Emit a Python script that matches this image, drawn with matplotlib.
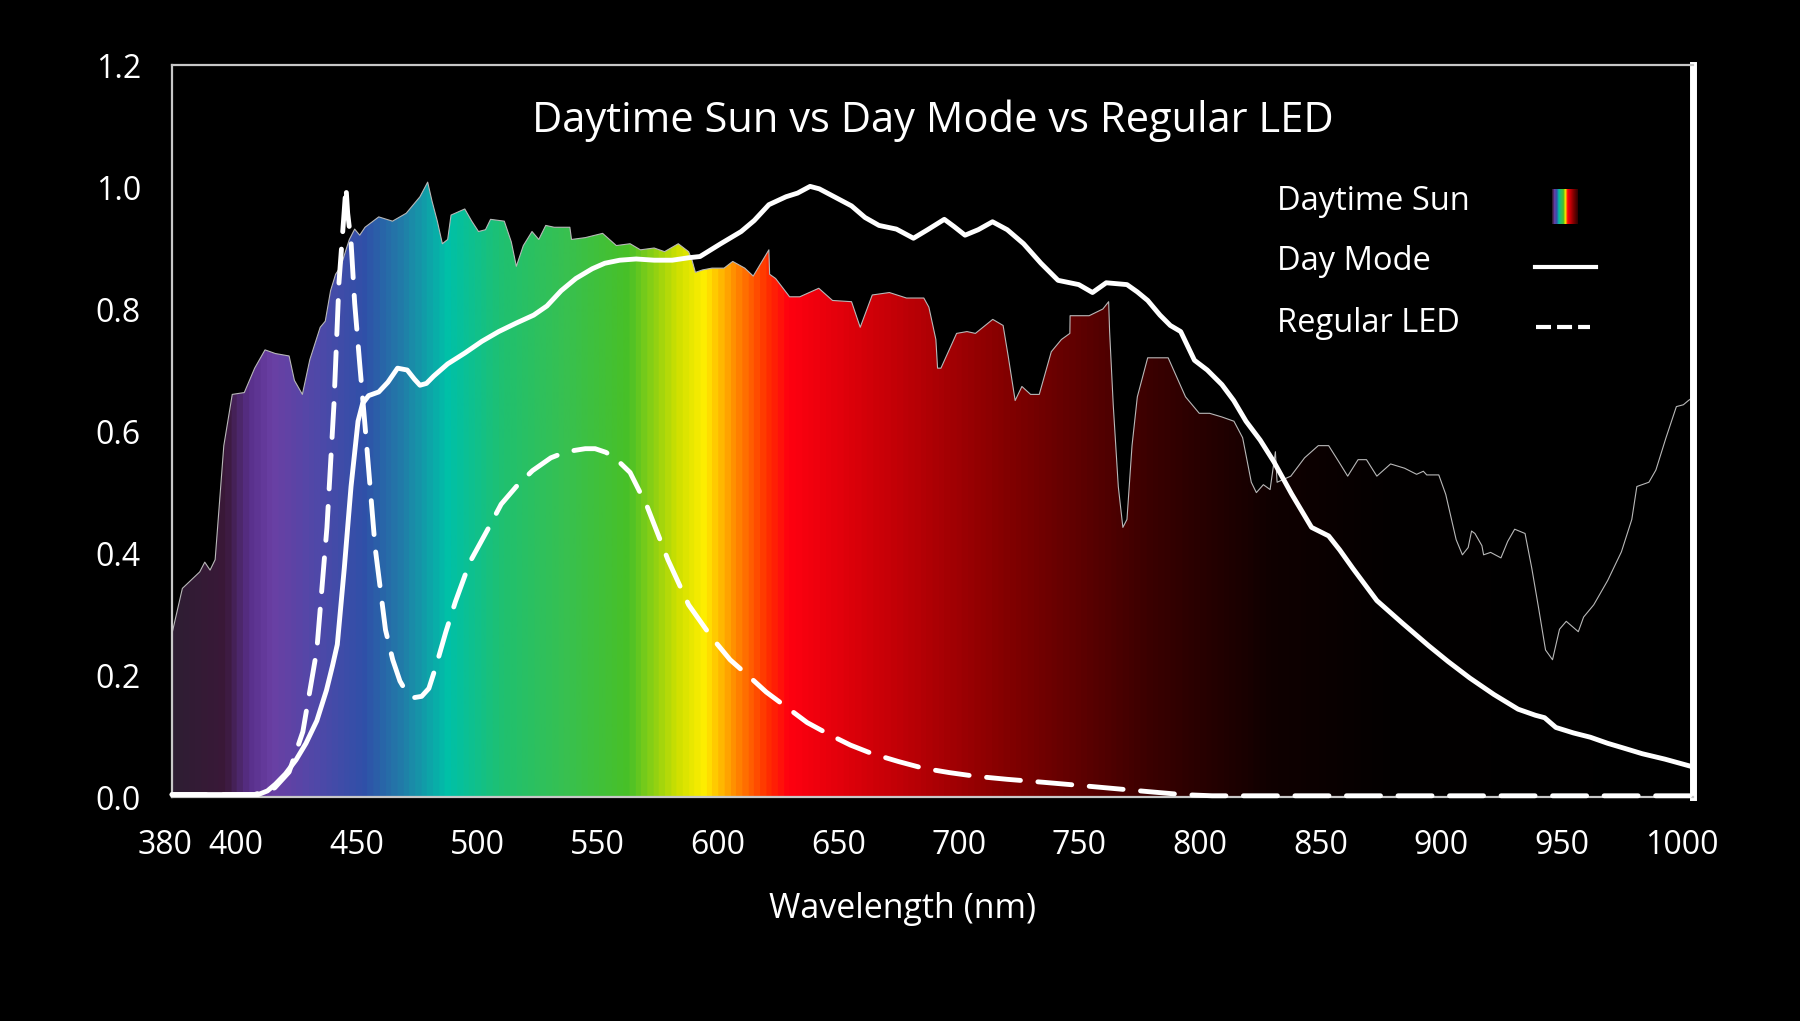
import numpy as np
import matplotlib
matplotlib.use("Agg")
import matplotlib.pyplot as plt
from matplotlib.colors import LinearSegmentedColormap
from matplotlib.lines import Line2D
from matplotlib.transforms import ScaledTranslation

plt.rcParams['font.family'] = ['Open Sans', 'DejaVu Sans']

# ---- data ----
sun_nm = [373.4, 377.7, 384.9, 387.0, 389.2, 391.3, 394.9, 398.4, 403.4, 407.7, 412.0, 416.3,
          422.0, 424.2, 427.5, 430.6, 434.9, 437.0, 439.2, 441.3, 443.5, 445.6, 447.0, 449.2,
          451.3, 453.5, 459.2, 464.9, 470.6, 476.3, 479.5, 481.3, 483.5, 485.6, 487.8, 489.2,
          494.9, 497.8, 500.6, 503.5, 505.6, 511.3, 514.2, 516.3, 519.2, 522.8, 525.6, 528.5,
          532.0, 538.5, 539.2, 544.9, 552.1, 557.8, 563.5, 567.8, 573.5, 577.8, 583.5, 587.8,
          589.2, 590.6, 593.5, 597.5, 602.5, 606.1, 611.1, 614.6, 621.1, 621.4, 623.9, 629.7,
          633.9, 641.8, 647.5, 655.4, 659.0, 664.0, 671.1, 678.2, 685.4, 687.5, 690.4, 691.1,
          692.5, 699.0, 703.3, 706.8, 714.0, 718.3, 720.4, 723.3, 726.1, 729.7, 733.3, 738.3,
          742.5, 746.0, 746.1, 754.0, 759.7, 762.1, 762.5, 764.0, 766.1, 768.0, 769.7, 771.8,
          774.0, 778.3, 786.8, 794.0, 799.7, 804.0, 809.1, 814.1, 817.7, 821.3, 823.4, 826.3,
          829.1, 831.3, 832.0, 837.7, 843.4, 849.1, 853.4, 857.7, 861.3, 865.6, 869.1, 873.4,
          879.1, 884.9, 889.9, 892.7, 894.1, 899.1, 902.0, 906.3, 908.9, 911.3, 912.7, 914.1,
          917.0, 917.7, 920.6, 924.9, 927.7, 930.6, 934.9, 937.7, 940.6, 943.4, 946.3, 949.2,
          952.0, 957.0, 959.2, 963.4, 969.2, 974.9, 979.2, 981.3, 986.3, 989.2, 993.4, 997.7,
          1000.6, 1002.7, 1004.5]
sun_val = [0.268, 0.342, 0.369, 0.385, 0.372, 0.389, 0.576, 0.660, 0.663, 0.703, 0.733, 0.727,
           0.723, 0.683, 0.660, 0.717, 0.770, 0.780, 0.830, 0.857, 0.870, 0.897, 0.914, 0.931,
           0.921, 0.934, 0.951, 0.944, 0.957, 0.984, 1.008, 0.977, 0.944, 0.907, 0.914, 0.954,
           0.964, 0.944, 0.927, 0.930, 0.947, 0.944, 0.910, 0.870, 0.904, 0.927, 0.914, 0.937,
           0.934, 0.934, 0.914, 0.917, 0.924, 0.904, 0.907, 0.897, 0.900, 0.894, 0.907, 0.894,
           0.880, 0.860, 0.864, 0.867, 0.867, 0.878, 0.867, 0.854, 0.897, 0.857, 0.850, 0.820,
           0.820, 0.834, 0.814, 0.812, 0.770, 0.823, 0.827, 0.818, 0.818, 0.803, 0.750, 0.703,
           0.703, 0.760, 0.763, 0.760, 0.783, 0.773, 0.723, 0.650, 0.673, 0.660, 0.660, 0.730,
           0.750, 0.760, 0.789, 0.789, 0.800, 0.812, 0.763, 0.643, 0.509, 0.442, 0.455, 0.576,
           0.656, 0.720, 0.720, 0.656, 0.629, 0.629, 0.623, 0.616, 0.589, 0.516, 0.499, 0.512,
           0.504, 0.566, 0.516, 0.526, 0.556, 0.576, 0.576, 0.549, 0.526, 0.553, 0.553, 0.526,
           0.546, 0.539, 0.529, 0.534, 0.528, 0.528, 0.496, 0.422, 0.397, 0.409, 0.436, 0.432,
           0.412, 0.397, 0.401, 0.392, 0.419, 0.439, 0.432, 0.375, 0.308, 0.241, 0.225, 0.275,
           0.288, 0.271, 0.295, 0.315, 0.355, 0.402, 0.455, 0.509, 0.516, 0.536, 0.589, 0.640,
           0.643, 0.650, 0.655]

day_nm = [373.4, 409.2, 413.0, 416.3, 420.5, 424.9, 429.0, 433.5, 437.5, 440.0, 442.0, 444.9,
          447.7, 450.6, 452.5, 455.0, 459.2, 463.0, 467.0, 471.0, 474.0, 476.3, 479.0, 482.0,
          487.8, 495.0, 502.0, 509.0, 516.3, 523.5, 529.0, 534.9, 541.0, 547.8, 553.0, 559.2,
          566.0, 573.5, 581.0, 587.8, 592.5, 601.1, 609.6, 615.0, 621.1, 628.2, 633.0, 638.2,
          642.0, 646.8, 655.4, 661.0, 666.8, 674.0, 681.1, 687.0, 693.9, 698.0, 702.5, 708.0,
          713.9, 720.0, 726.8, 734.0, 741.1, 749.7, 755.4, 761.1, 769.7, 774.0, 778.3, 783.4,
          787.7, 792.0, 797.7, 803.0, 809.1, 814.0, 819.1, 825.0, 830.6, 838.0, 846.3, 853.4,
          858.0, 863.4, 873.4, 884.0, 894.9, 903.0, 912.0, 922.0, 932.0, 939.2, 943.0, 947.7,
          955.0, 962.0, 969.2, 976.0, 983.5, 993.0, 1004.0]
day_val = [0.004, 0.004, 0.010, 0.021, 0.038, 0.061, 0.088, 0.125, 0.175, 0.215, 0.250, 0.375,
           0.509, 0.616, 0.645, 0.658, 0.664, 0.680, 0.703, 0.700, 0.685, 0.675, 0.678, 0.690,
           0.710, 0.728, 0.747, 0.763, 0.777, 0.790, 0.805, 0.830, 0.850, 0.866, 0.875, 0.880,
           0.882, 0.880, 0.880, 0.884, 0.886, 0.907, 0.927, 0.945, 0.971, 0.984, 0.990, 1.001,
           0.997, 0.987, 0.969, 0.950, 0.937, 0.931, 0.916, 0.930, 0.947, 0.935, 0.921, 0.930,
           0.943, 0.930, 0.907, 0.875, 0.847, 0.840, 0.827, 0.843, 0.840, 0.828, 0.814, 0.790,
           0.773, 0.763, 0.716, 0.700, 0.676, 0.650, 0.616, 0.585, 0.550, 0.497, 0.442, 0.428,
           0.405, 0.375, 0.322, 0.285, 0.248, 0.222, 0.195, 0.168, 0.144, 0.134, 0.130, 0.114,
           0.105, 0.098, 0.088, 0.080, 0.071, 0.062, 0.050]

led_nm = [373.4, 407.7, 416.0, 422.0, 427.7, 433.5, 437.7, 440.6, 442.7, 444.2, 445.6, 446.3,
          447.7, 449.2, 451.3, 453.5, 457.7, 462.0, 465.0, 468.0, 471.0, 474.0, 477.0, 480.0,
          483.0, 487.0, 491.0, 497.0, 504.9, 510.0, 516.3, 523.0, 530.6, 537.0, 544.9, 549.0,
          553.5, 558.0, 563.5, 570.6, 579.2, 587.8, 597.5, 605.0, 613.9, 620.0, 628.2, 637.0,
          646.8, 655.0, 664.0, 675.0, 685.4, 696.0, 706.8, 720.0, 735.4, 750.0, 764.0, 778.0,
          792.5, 805.0, 816.6, 1004.0]
led_val = [0.004, 0.004, 0.015, 0.041, 0.107, 0.241, 0.442, 0.643, 0.844, 0.924, 1.001, 0.957,
           0.910, 0.810, 0.710, 0.609, 0.409, 0.274, 0.225, 0.190, 0.170, 0.163, 0.165, 0.178,
           0.215, 0.270, 0.320, 0.385, 0.442, 0.480, 0.509, 0.535, 0.556, 0.566, 0.571, 0.571,
           0.565, 0.553, 0.532, 0.476, 0.389, 0.315, 0.261, 0.225, 0.194, 0.172, 0.148, 0.122,
           0.101, 0.085, 0.071, 0.058, 0.047, 0.040, 0.034, 0.029, 0.024, 0.019, 0.014, 0.009,
           0.004, 0.002, 0.002, 0.002]

xticks = [380, 400, 450, 500, 550, 600, 650, 700, 750, 800, 850, 900, 950, 1000]
yticks = [0.0, 0.2, 0.4, 0.6, 0.8, 1.0, 1.2]

# colour of the spectrum fill along the wavelength axis
spec_nm = [373, 394, 404, 414, 432, 452, 469, 487, 510, 536, 562, 583, 594, 606, 620, 629,
           664, 722, 780, 830, 880, 1005]
spec_col = ['#2e1e33', '#3a1838', '#58308a', '#6a40a4', '#5048a8', '#3050a8', '#2080a8',
            '#00c0a8', '#20c070', '#38c050', '#48c028', '#d0e000', '#ffee00', '#ff9000',
            '#ff3000', '#ff0010', '#d00008', '#800000', '#3a0000', '#100000', '#030000', '#000000']

X0, X1 = 373.4, 1004.6
W, H = 1800, 1021

cmap = LinearSegmentedColormap.from_list(
    'spec', [((n - spec_nm[0]) / (spec_nm[-1] - spec_nm[0]), c) for n, c in zip(spec_nm, spec_col)])

fig = plt.figure(figsize=(18, 10.21), dpi=100, facecolor='black')
ax = fig.add_axes([172 / W, 1 - 797 / H, (1693 - 172) / W, (797 - 65) / H])
ax.set_facecolor('black')
ax.set_xlim(X0, X1)
ax.set_ylim(0, 1.2)

# spectrum gradient clipped to the sun curve
grad = np.linspace(X0, X1, 1200)
grad_norm = (grad - spec_nm[0]) / (spec_nm[-1] - spec_nm[0])
im = ax.imshow(grad_norm[None, :], cmap=cmap, vmin=0, vmax=1, aspect='auto',
               extent=[X0, X1, 0, 1.2], origin='lower', zorder=1)
poly = ax.fill_between(sun_nm, sun_val, 0, facecolor='none', edgecolor='none', zorder=1)
im.set_clip_path(poly.get_paths()[0], transform=ax.transData)
ax.plot(sun_nm, sun_val, color='#b8b8b8', lw=0.8, zorder=2)

ax.plot(day_nm, day_val, color='white', lw=3.5, solid_joinstyle='round',
        solid_capstyle='round', zorder=4, clip_on=False)
ax.plot(led_nm, led_val, color='white', lw=3.5, linestyle=(0, (7, 3.6)),
        dash_capstyle='round', dash_joinstyle='round', zorder=4, clip_on=False)

# frame
for side in ['top', 'left', 'bottom']:
    ax.spines[side].set_color('#c8c8c8')
    ax.spines[side].set_linewidth(1.6)
ax.spines['right'].set_color('white')
ax.spines['right'].set_linewidth(5)

ax.set_xticks(xticks)
ax.set_xticklabels([str(t) for t in xticks])
ax.set_yticks(yticks)
ax.set_yticklabels(['%.1f' % t for t in yticks])
ax.tick_params(axis='x', length=0, pad=23, labelsize=23, labelcolor='white')
ax.tick_params(axis='y', length=0, pad=55, labelsize=23, labelcolor='white')
for lbl in ax.get_yticklabels():
    lbl.set_horizontalalignment('left')
lbl380 = ax.get_xticklabels()[0]
lbl380.set_transform(lbl380.get_transform() + ScaledTranslation(-0.23, 0, fig.dpi_scale_trans))

ax.text(0.5, (797 - 121) / (797 - 65), 'Daytime Sun vs Day Mode vs Regular LED',
        transform=ax.transAxes, ha='center', va='center', color='white', fontsize=30, zorder=5)
fig.text(903 / W, 1 - 909 / H, 'Wavelength (nm)', ha='center', va='center',
         color='white', fontsize=24.5)

# legend
leg_names = ['Daytime Sun', 'Day Mode', 'Regular LED']
leg_y = [201, 262, 323]
for name, yy in zip(leg_names, leg_y):
    fig.text(1277 / W, 1 - yy / H, name, ha='left', va='center', color='white', fontsize=23.5)
fig.add_artist(Line2D([1535 / W, 1596 / W], [1 - 267 / H] * 2, color='white', lw=3,
                      transform=fig.transFigure))
fig.add_artist(Line2D([1536 / W, 1590 / W], [1 - 327 / H] * 2, color='white', lw=3,
                      linestyle=(0, (3.6, 1.45)), transform=fig.transFigure))
lax = fig.add_axes([1552 / W, 1 - 224 / H, 26 / W, 35 / H])
lgrad = np.linspace(380, 790, 100)
lax.imshow(((lgrad - spec_nm[0]) / (spec_nm[-1] - spec_nm[0]))[None, :], cmap=cmap,
           vmin=0, vmax=1, aspect='auto')
lax.axis('off')

fig.savefig('out.png', dpi=100, facecolor='black')
